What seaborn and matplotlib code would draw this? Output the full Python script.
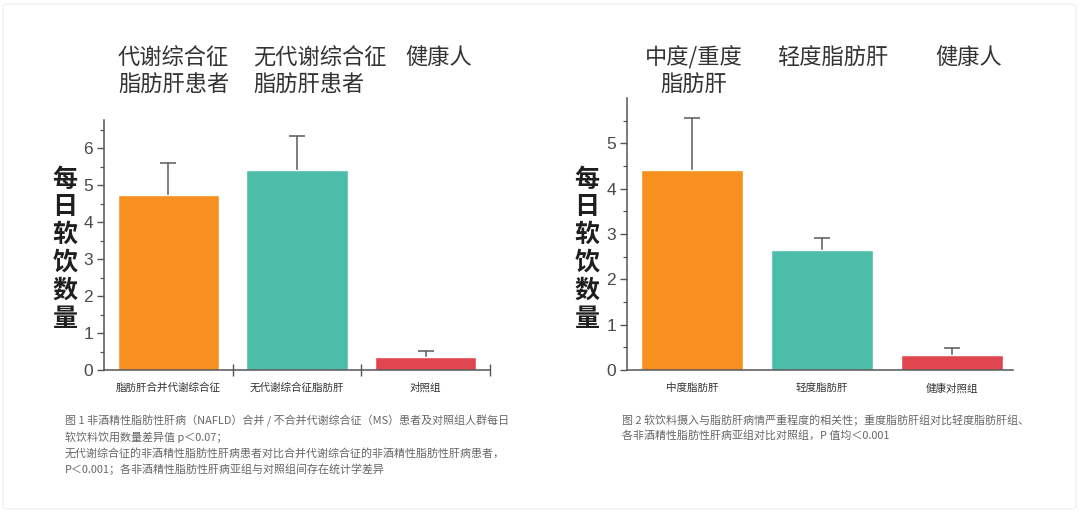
import matplotlib
matplotlib.use("Agg")
import matplotlib.pyplot as plt
import seaborn as sns
import numpy as np
import pandas as pd
from matplotlib.patches import FancyBboxPatch

# ---------------- data ----------------
left_categories = ["脂肪肝合并代谢综合征", "无代谢综合征脂肪肝", "对照组"]
left_values = [4.74, 5.42, 0.35]
left_err_upper = [0.87, 0.91, 0.17]
left_headers = ["代谢综合征\n脂肪肝患者", "无代谢综合征\n脂肪肝患者", "健康人"]

right_categories = ["中度脂肪肝", "轻度脂肪肝", "健康对照组"]
right_values = [4.41, 2.64, 0.32]
right_err_upper = [1.14, 0.27, 0.16]
right_headers = ["中度/重度\n脂肪肝", "轻度脂肪肝", "健康人"]

ylabel_text = "每日软饮数量"
left_yticks = [0, 1, 2, 3, 4, 5, 6]
right_yticks = [0, 1, 2, 3, 4, 5]

caption_left = ("图 1 非酒精性脂肪性肝病（NAFLD）合并 / 不合并代谢综合征（MS）患者及对照组人群每日\n"
                "软饮料饮用数量差异值 p＜0.07；\n"
                "无代谢综合征的非酒精性脂肪性肝病患者对比合并代谢综合征的非酒精性脂肪性肝病患者，\n"
                "P＜0.001；各非酒精性脂肪性肝病亚组与对照组间存在统计学差异")
caption_right = ("图 2 软饮料摄入与脂肪肝病情严重程度的相关性；重度脂肪肝组对比轻度脂肪肝组、\n"
                 "各非酒精性脂肪性肝病亚组对比对照组，P 值均＜0.001")

bar_colors = ["#F7901E", "#4DBDA9", "#E0464F"]

# ---------------- style ----------------
sns.set_theme(style="white")
plt.rcParams["font.family"] = ["Noto Sans CJK SC", "DejaVu Sans"]

W, H = 1080, 514
fig = plt.figure(figsize=(W / 100, H / 100), dpi=100)
fig.patch.set_facecolor("white")

# faint card border
fig.patches.append(FancyBboxPatch((3 / W, 5 / H), (W - 7) / W, (H - 9) / H,
                                  boxstyle="round,pad=0,rounding_size=0.006",
                                  transform=fig.transFigure, facecolor="none",
                                  edgecolor="#efefef", linewidth=1.0, zorder=0))

ax1 = fig.add_axes([104 / W, 1 - 370 / H, (490 - 104) / W, (370 - 120) / H])
ax2 = fig.add_axes([627 / W, 1 - 370 / H, (1013 - 627) / W, (370 - 98) / H])

AXCOL = "#555555"


def draw(ax, cats, vals, errs, ylim_top, xright, yticks, boundary_ticks):
    df = pd.DataFrame({"cat": cats, "val": vals})
    sns.barplot(data=df, x="cat", y="val", hue="cat", palette=bar_colors,
                width=0.79, legend=False, ax=ax, saturation=1, order=cats)
    eb = ax.errorbar(np.arange(len(cats)), vals, yerr=[np.zeros(len(vals)), errs],
                     fmt="none", ecolor="#5a5a5a", elinewidth=1.1, capsize=5.5,
                     capthick=1.1, zorder=1)
    # keep only the upper caps
    caplines = eb[1]
    if len(caplines) == 2:
        caplines[0].set_visible(False)
    for p in ax.patches:
        p.set_zorder(2)
    ax.set_xlim(-0.5, xright)
    ax.set_ylim(0, ylim_top)
    ax.set_xlabel("")
    ax.set_ylabel("")
    for s in ["top", "right"]:
        ax.spines[s].set_visible(False)
    for s in ["left", "bottom"]:
        ax.spines[s].set_color(AXCOL)
        ax.spines[s].set_linewidth(1.1)
    ax.set_yticks(yticks)
    ax.set_yticklabels([str(t) for t in yticks], family=["Liberation Sans", "DejaVu Sans"])
    ax.set_yticks(np.arange(0.5, ylim_top, 0.5), minor=True)
    ax.tick_params(axis="y", which="major", direction="out", length=5, width=1.0,
                   color=AXCOL, labelsize=12.5, labelcolor="#4a4a4a", pad=3, left=True)
    ax.tick_params(axis="y", which="minor", direction="out", length=3, width=0.9,
                   color=AXCOL, left=True)
    if boundary_ticks:
        ax.set_xticks([0.5, 1.5, 2.5])
        ax.set_xticklabels(["", "", ""])
        ax.tick_params(axis="x", which="major", direction="inout", length=8,
                       width=1.0, color=AXCOL, bottom=True)
    else:
        ax.set_xticks([])
    ax.set_xticks(range(len(cats)), minor=True)
    ax.set_xticklabels(cats, minor=True)
    ax.tick_params(axis="x", which="minor", length=0, labelsize=7.6,
                   labelcolor="#333333", pad=9, bottom=True)
    ax.set_facecolor("none")


draw(ax1, left_categories, left_values, left_err_upper, 6.77, 2.5, left_yticks, True)
draw(ax2, right_categories, right_values, right_err_upper, 6.0, 2.47, right_yticks, False)

# y labels (stacked vertical characters)
stacked = "\n".join(list(ylabel_text))
for xpix in (65, 587):
    fig.text(xpix / W, 1 - 249 / H, stacked, ha="center", va="center",
             fontsize=18, fontweight="bold", color="#1e1e1e", linespacing=1.2)

# column headers
hdr_kw = dict(fontsize=16, color="#333333", va="top", linespacing=1.22)
fig.text(118 / W, 1 - 46 / H, left_headers[0], ha="left", **hdr_kw)
fig.text(253 / W, 1 - 46 / H, left_headers[1], ha="left", **hdr_kw)
fig.text(439 / W, 1 - 46 / H, left_headers[2], ha="center", **hdr_kw)
fig.text(694 / W, 1 - 46 / H, right_headers[0], ha="center", multialignment="center", **hdr_kw)
fig.text(833 / W, 1 - 46 / H, right_headers[1], ha="center", **hdr_kw)
fig.text(969 / W, 1 - 46 / H, right_headers[2], ha="center", **hdr_kw)

# captions
cap_kw = dict(fontsize=7.9, color="#666666", va="top", ha="left", linespacing=1.5)
fig.text(65 / W, 1 - 415 / H, caption_left, **cap_kw)
fig.text(622 / W, 1 - 414 / H, caption_right, **cap_kw)

fig.savefig("out.png", dpi=100, facecolor="white")
